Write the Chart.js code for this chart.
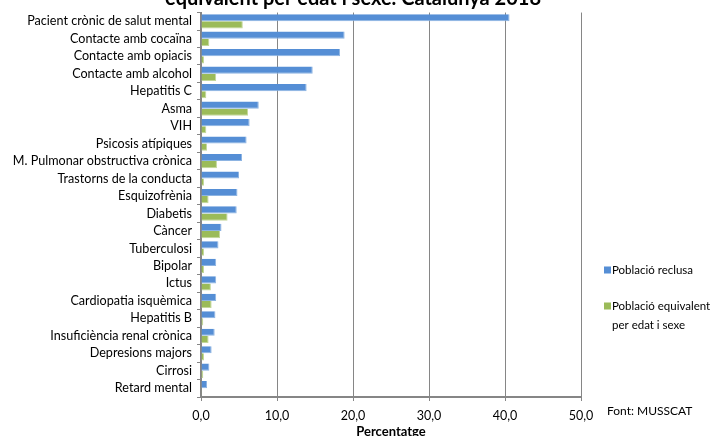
<!DOCTYPE html>
<html>
<head>
<meta charset="utf-8">
<script src="https://cdn.jsdelivr.net/npm/chart.js@4"></script>
<style>
  html, body { margin: 0; padding: 0; background: #fff; }
  #wrap { width: 725px; height: 436px; position: relative; }
</style>
</head>
<body>
<div id="wrap"><canvas id="chart" width="725" height="436"></canvas></div>
<script>
const categories = [
    "Pacient crònic de salut mental", "Contacte amb cocaïna", "Contacte amb opiacis",
    "Contacte amb alcohol", "Hepatitis C", "Asma", "VIH", "Psicosis atípiques",
    "M. Pulmonar obstructiva crònica", "Trastorns de la conducta", "Esquizofrènia",
    "Diabetis", "Càncer", "Tuberculosi", "Bipolar", "Ictus", "Cardiopatia isquèmica",
    "Hepatitis B", "Insuficiència renal crònica", "Depresions majors", "Cirrosi", "Retard mental"
];
const reclusa = [40.6, 18.9, 18.3, 14.7, 13.9, 7.6, 6.4, 6.0, 5.4, 5.0, 4.8, 4.7, 2.7, 2.3, 2.0, 2.0, 2.0, 1.9, 1.8, 1.4, 1.1, 0.8];
const equivalent = [5.5, 1.1, 0.4, 2.0, 0.7, 6.2, 0.7, 0.8, 2.1, 0.4, 1.0, 3.5, 2.5, 0.4, 0.4, 1.3, 1.4, 0.3, 1.0, 0.4, 0.3, 0.1];
const seriesNames = ["Població reclusa", "Població equivalent per edat i sexe"];
const xTicks = [0, 10, 20, 30, 40, 50];

const titleText = "equivalent per edat i sexe. Catalunya 2018";
const sourceText = "Font: MUSSCAT";

const $blue = "#558ED5";
const $green = "#9BBB59";
const $axis = "#868686";
const $text = "#000000";
const $font = "Lato, 'Liberation Sans', sans-serif";

// title, legend and source note drawn by hand
const extras = {
    id: 'extras',
    afterDraw(chart) {
        const ctx = chart.ctx;
        ctx.save();
        ctx.fillStyle = $text;
        ctx.textBaseline = 'alphabetic';

        ctx.font = "bold 20px " + $font;
        ctx.textAlign = 'center';
        ctx.fillText(titleText, 353, 5);

        ctx.font = "11.5px " + $font;
        ctx.textAlign = 'left';
        ctx.textBaseline = 'middle';
        const colors = [$blue, $green];
        const tops = [270, 306];
        chart.data.datasets.forEach((ds, i) => {
            ctx.fillStyle = colors[i];
            ctx.fillRect(604, tops[i] - 3.5, 7, 7);
            ctx.fillStyle = $text;
            // simple word wrap
            let words = ds.label.split(' ');
            let line = '';
            let y = tops[i];
            words.forEach(w => {
                let test = line ? line + ' ' + w : w;
                if (ctx.measureText(test).width > 106 && line) {
                    ctx.fillText(line, 612, y);
                    line = w;
                    y += 19;
                } else {
                    line = test;
                }
            });
            ctx.fillText(line, 612, y);
        });

        ctx.font = "12px " + $font;
        ctx.fillText(sourceText, 607, 411);
        ctx.restore();
    }
};

new Chart(document.getElementById('chart'), {
    type: 'bar',
    data: {
        labels: categories,
        datasets: [{
            label: seriesNames[0],
            data: reclusa,
            backgroundColor: $blue,
            borderColor: "#8DB4E2",
            borderWidth: {right: 1, bottom: 1},
            borderSkipped: 'start',
            categoryPercentage: 0.82,
            barPercentage: 1.0
        }, {
            label: seriesNames[1],
            data: equivalent,
            backgroundColor: $green,
            borderColor: "#C4D79B",
            borderWidth: {right: 1, bottom: 1},
            borderSkipped: 'start',
            categoryPercentage: 0.82,
            barPercentage: 1.0
        }]
    },
    options: {
        indexAxis: 'y',
        responsive: false,
        animation: false,
        layout: { padding: { top: 12, right: 144, left: 0, bottom: 0 } },
        plugins: {
            legend: { display: false },
            tooltip: { enabled: false },
            title: { display: false }
        },
        scales: {
            x: {
                min: 0,
                max: 50,
                afterBuildTicks: scale => { scale.ticks = xTicks.map(v => ({value: v})); },
                afterFit: scale => { scale.height = 39; },
                ticks: {
                    color: $text,
                    font: { family: $font, size: 12.5 },
                    padding: 7,
                    maxRotation: 0,
                    callback: v => v.toFixed(1).replace('.', ',')
                },
                grid: { color: $axis, lineWidth: 1, tickLength: 4 },
                border: { color: $axis, width: 2 },
                title: {
                    display: true,
                    text: "Percentatge",
                    color: $text,
                    font: { family: $font, size: 13, weight: 'bold' },
                    padding: { top: 0, bottom: -4 }
                }
            },
            y: {
                afterFit: scale => { scale.width = 201; },
                ticks: {
                    color: $text,
                    font: { family: $font, size: 12.6 },
                    padding: 5,
                    autoSkip: false
                },
                grid: { offset: true, drawOnChartArea: false, color: $axis, tickLength: 4 },
                border: { color: $axis, width: 2 }
            }
        }
    },
    plugins: [extras]
});
</script>
</body>
</html>
